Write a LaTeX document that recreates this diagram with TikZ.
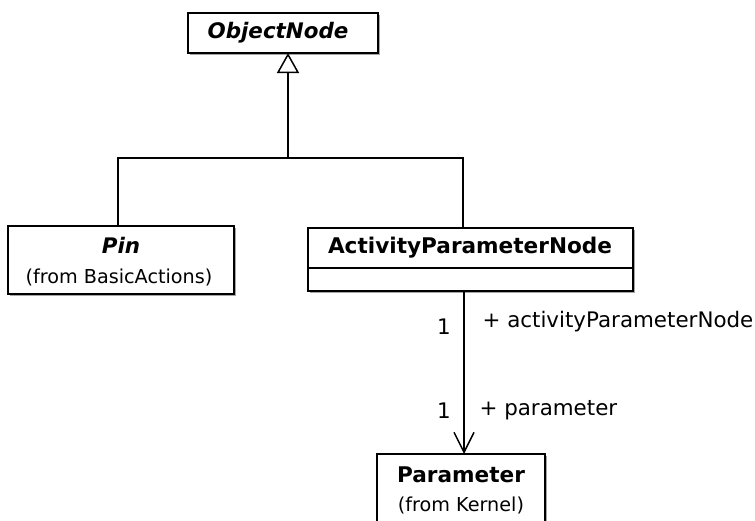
\documentclass[tikz,border=0pt]{standalone}
\usepackage{fontspec}
\setmainfont{DejaVu Sans}
\usetikzlibrary{arrows.meta}
\begin{document}
\begin{tikzpicture}[x=1pt,y=-1pt,
  cls/.style={draw=black,line width=1.5pt,fill=white},
  shadowbox/.style={fill=black!35,draw=none},
  clsname/.style={font=\fontsize{21.6}{24}\selectfont\bfseries},
  clsabs/.style={font=\fontsize{21.4}{24}\selectfont\bfseries\itshape},
  clssub/.style={font=\fontsize{19.2}{22}\selectfont},
  lbl/.style={font=\fontsize{21.4}{24}\selectfont},
  conn/.style={line width=1.5pt,draw=black},
  gen/.style={-{Triangle[open,length=20pt,width=22pt,line width=1.5pt]}},
  nav/.style={-{Straight Barb[length=20pt,width=20pt,line width=1.5pt]}}
]
\useasboundingbox (0,0) rectangle (755,520);
% shadows
\fill[shadowbox] (190,15) rectangle (380,55);
\fill[shadowbox] (10,228) rectangle (236,296);
\fill[shadowbox] (310,230) rectangle (635,293);
\fill[shadowbox] (379,456) rectangle (547,540);
% boxes
\draw[cls] (188,13) rectangle (378,53);
\node[clsabs] (on) at (278,33) {ObjectNode};
\coordinate (onb) at (288,53);

\draw[cls] (8,226) rectangle (234,294);
\node[clsabs] (pin) at (121,245) {Pin};
\node[clssub] (pinsub) at (119,277) {(from BasicActions)};
\coordinate (pint) at (118,226);

\draw[cls] (308,228) rectangle (633,291);
\draw[conn] (308,268) -- (633,268);
\node[clsname] (apn) at (470,248) {ActivityParameterNode};
\coordinate (apnt) at (463,228);
\coordinate (apnb) at (464,291);

\draw[cls] (377,454) rectangle (545,540);
\node[clsname] (par) at (461,475) {Parameter};
\node[clssub] (parsub) at (461,505) {(from Kernel)};
\coordinate (part) at (464,454);

% generalization
\coordinate (j) at (288,158);
\draw[conn] (pint) |- (j);
\draw[conn] (apnt) |- (j);
\draw[conn,gen] (j) -- (onb);

% association
\draw[conn,nav] (apnb) -- (part);
\node[lbl] (m1) at (444,327) {1};
\node[lbl,anchor=west] (r1) at (479,322) {+ activityParameterNode};
\node[lbl] (m2) at (444,411) {1};
\node[lbl,anchor=west] (r2) at (476,410) {+ parameter};
\end{tikzpicture}
\end{document}
